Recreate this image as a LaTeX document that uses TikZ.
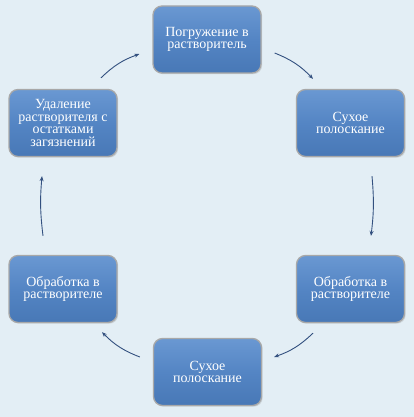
\documentclass[tikz,border=0pt]{standalone}
\usepackage{fontspec}
\setmainfont{Liberation Serif}
\usetikzlibrary{calc,shadows,arrows.meta}
\definecolor{bg}{HTML}{E3EEF5}
\definecolor{boxtop}{HTML}{6A98D2}
\definecolor{boxmid}{HTML}{5485C4}
\definecolor{boxbot}{HTML}{4878B6}
\definecolor{rim}{HTML}{A8A8A8}
\definecolor{arrc}{HTML}{33507F}
\tikzset{
  stepbox/.style={rounded corners=9pt, minimum width=108pt, minimum height=67pt,
    top color=boxtop, bottom color=boxbot, middle color=boxmid,
    draw=rim, line width=1.3pt, text=white, align=center,
    font=\fontsize{14}{12.8}\selectfont, inner sep=2pt,
    drop shadow={opacity=0.25, shadow xshift=1.2pt, shadow yshift=-1.2pt}},
  arr/.style={draw=arrc, line width=0.9pt, -{Stealth[length=5pt,width=4pt]}}
}
\begin{document}
\begin{tikzpicture}[x=1pt,y=-1pt]
\fill[bg] (0,0) rectangle (414,417);
\useasboundingbox (0,0) rectangle (414,417);
\node[stepbox] (top) at (207,39.5) {Погружение в\\растворитель};
\node[stepbox] (rt) at (350.5,123) {Сухое\\полоскание};
\node[stepbox] (rb) at (350.5,289) {Обработка в\\растворителе};
\node[stepbox] (bot) at (207.5,372) {Сухое\\полоскание};
\node[stepbox] (lb) at (63,289) {Обработка в\\растворителе};
\node[stepbox] (lt) at (63,123) {Удаление\\растворителя  с\\остатками\\загязнений};
\draw[arr] ($(top.east)+(13,13.5)$) to[bend left=12] ($(rt.north)+(-37.5,-10)$);
\draw[arr] ($(rt.south)+(21.5,19)$) to[bend left=6] ($(rb.north)+(20.5,-19)$);
\draw[arr] ($(rb.south)+(-37.5,10)$) to[bend left=12] ($(bot.east)+(12,-15)$);
\draw[arr] ($(bot.west)+(-13,-15)$) to[bend left=12] ($(lb.south)+(39,9)$);
\draw[arr] ($(lb.north)+(-20,-19)$) to[bend left=6] ($(lt.south)+(-21,19)$);
\draw[arr] ($(lt.north)+(38,-11)$) to[bend left=12] ($(top.west)+(-13,14.5)$);
\end{tikzpicture}
\end{document}
